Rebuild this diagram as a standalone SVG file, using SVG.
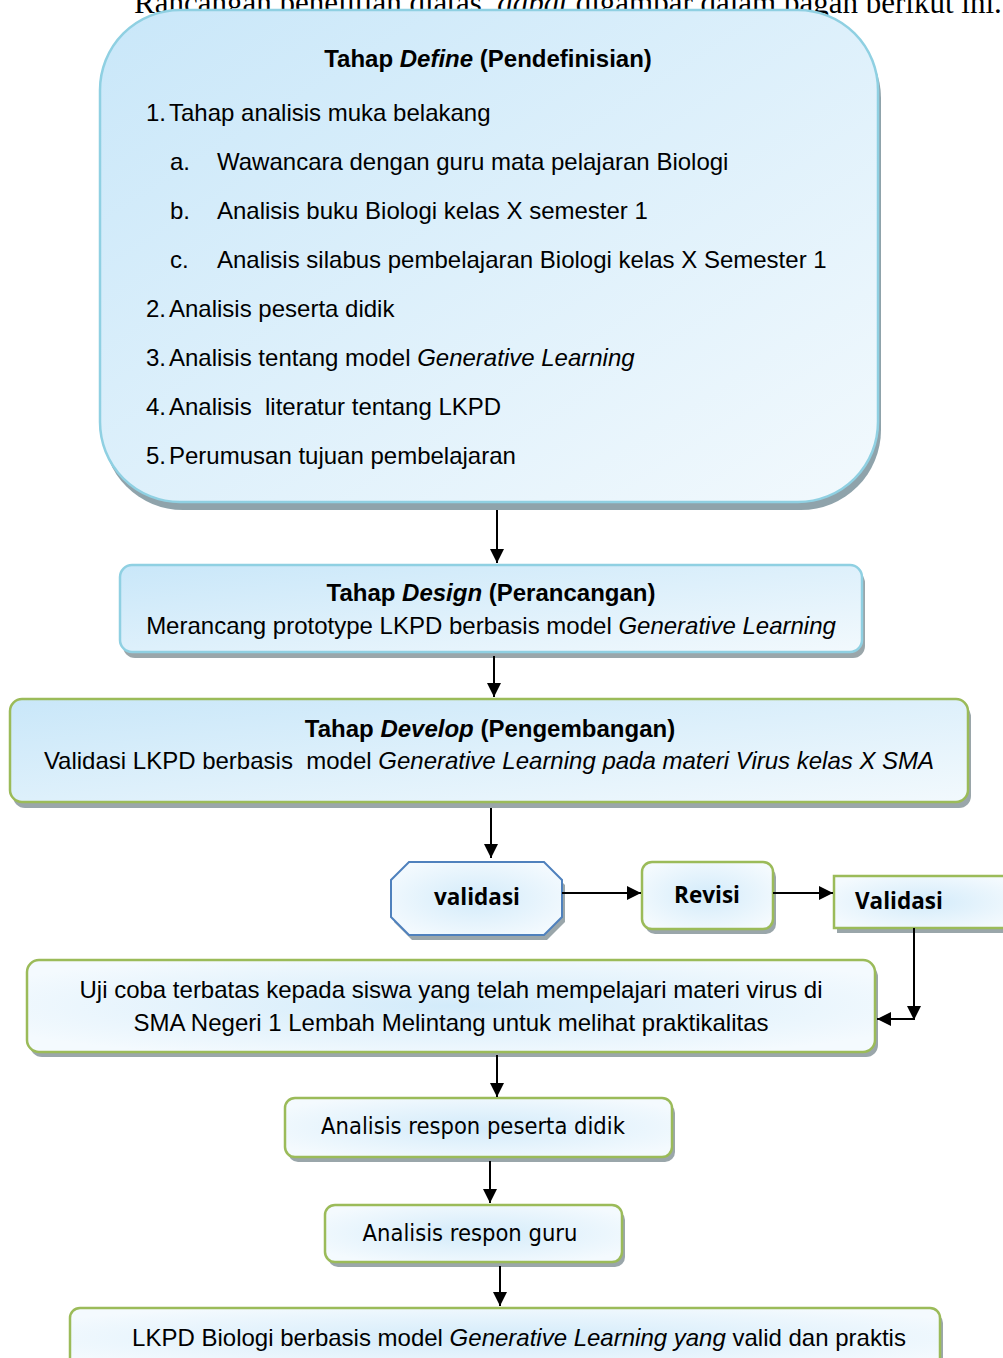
<svg xmlns="http://www.w3.org/2000/svg" width="1003" height="1358" viewBox="0 0 1003 1358">
<style>
.t{font-family:"Liberation Sans",Arial,sans-serif;font-size:24px;fill:#000}
.b{font-weight:bold}
.i{font-style:italic}
.c{text-anchor:middle}
.o{font-family:"Open Sans","DejaVu Sans",sans-serif;font-weight:bold;font-size:22.5px;fill:#000}
.d{font-family:"DejaVu Sans",sans-serif;font-stretch:condensed;font-size:23.5px;fill:#000}
.sh{fill:#9aa6aa}
.bl{stroke:#8fd0e2;stroke-width:2.5}
.gr{stroke:#9bbb59;stroke-width:2.5}
.conn line,.conn path{stroke:#000;stroke-width:2;fill:none}
</style>
<defs>
<linearGradient id="gL" x1="0" y1="0" x2="1" y2="1">
<stop offset="0" stop-color="#c9e7f9"/>
<stop offset="1" stop-color="#f2f9fd"/>
</linearGradient>
<radialGradient id="gR" cx="0.5" cy="0.5" r="0.6">
<stop offset="0" stop-color="#d3ebfa"/>
<stop offset="1" stop-color="#f4fafe"/>
</radialGradient>
<marker id="ah" viewBox="0 0 10 10" refX="10" refY="5" markerWidth="17" markerHeight="14" markerUnits="userSpaceOnUse" orient="auto">
<path d="M0,0 L10,5 L0,10 z" fill="#000"/>
</marker>
</defs>

<text x="134" y="13" style="font-family:'Liberation Serif','Times New Roman',serif;font-size:31px">Rancangan penelitian diatas, <tspan font-style="italic">dapat</tspan> digambar dalam bagan berikut ini.</text>

<g id="define">
<rect x="103" y="18" width="778" height="492" rx="80" fill="#8fa3ab"/>
<rect x="100" y="10" width="778" height="492" rx="80" fill="url(#gL)" class="bl"/>
<text x="488" y="67" class="t b c">Tahap <tspan class="i">Define</tspan> (Pendefinisian)</text>
<text x="146" y="121" class="t">1.</text><text x="169" y="121" class="t">Tahap analisis muka belakang</text>
<text x="170" y="170" class="t">a.</text><text x="217" y="170" class="t">Wawancara dengan guru mata pelajaran Biologi</text>
<text x="170" y="219" class="t">b.</text><text x="217" y="219" class="t">Analisis buku Biologi kelas X semester 1</text>
<text x="170" y="268" class="t">c.</text><text x="217" y="268" class="t">Analisis silabus pembelajaran Biologi kelas X Semester 1</text>
<text x="146" y="317" class="t">2.</text><text x="169" y="317" class="t">Analisis peserta didik</text>
<text x="146" y="366" class="t">3.</text><text x="169" y="366" class="t">Analisis tentang model <tspan class="i">Generative Learning</tspan></text>
<text x="146" y="415" class="t">4.</text><text x="169" y="415" class="t" xml:space="preserve">Analisis  literatur tentang LKPD</text>
<text x="146" y="464" class="t">5.</text><text x="169" y="464" class="t">Perumusan tujuan pembelajaran</text>
</g>

<g id="design">
<rect x="123" y="571" width="742" height="87" rx="12" class="sh"/>
<rect x="120" y="565" width="742" height="87" rx="12" fill="url(#gL)" class="bl"/>
<text x="491" y="601" class="t b c">Tahap <tspan class="i">Design</tspan> (Perancangan)</text>
<text x="491" y="634" class="t c">Merancang prototype LKPD berbasis model <tspan class="i">Generative Learning</tspan></text>
</g>

<g id="develop">
<rect x="13" y="705" width="958" height="103" rx="12" class="sh"/>
<rect x="10" y="699" width="958" height="103" rx="12" fill="url(#gL)" class="gr"/>
<text x="490" y="737" class="t b c">Tahap <tspan class="i">Develop</tspan> (Pengembangan)</text>
<text x="489" y="769" class="t c" xml:space="preserve">Validasi LKPD berbasis  model <tspan class="i">Generative Learning pada materi Virus kelas X SMA</tspan></text>
</g>

<g id="validasi1">
<polygon points="412,867 547,867 565,885 565,922 547,940 412,940 394,922 394,885" class="sh"/>
<polygon points="409,862 544,862 562,880 562,917 544,935 409,935 391,917 391,880" fill="url(#gR)" stroke="#4f81bd" stroke-width="2"/>
<text x="477" y="905" class="o c">validasi</text>
</g>

<g id="revisi">
<rect x="645" y="867" width="131" height="67" rx="10" class="sh"/>
<rect x="642" y="862" width="131" height="67" rx="10" fill="url(#gR)" class="gr"/>
<text x="707" y="903" class="o c">Revisi</text>
</g>

<g id="validasi2">
<rect x="837" y="881" width="180" height="52" class="sh"/>
<rect x="834" y="876" width="180" height="52" fill="url(#gR)" class="gr"/>
<text x="855" y="909" class="o">Validasi</text>
</g>

<g id="ujicoba">
<rect x="30" y="965" width="848" height="92" rx="12" class="sh"/>
<rect x="27" y="960" width="848" height="92" rx="12" fill="url(#gR)" class="gr"/>
<text x="451" y="998" class="t c">Uji coba terbatas kepada siswa yang telah mempelajari materi virus di</text>
<text x="451" y="1031" class="t c">SMA Negeri 1 Lembah Melintang untuk melihat praktikalitas</text>
</g>

<g id="respon-peserta">
<rect x="288" y="1103" width="387" height="59" rx="10" class="sh"/>
<rect x="285" y="1098" width="387" height="59" rx="10" fill="url(#gR)" class="gr"/>
<text x="473" y="1134" class="d c">Analisis respon peserta didik</text>
</g>

<g id="respon-guru">
<rect x="328" y="1210" width="297" height="57" rx="10" class="sh"/>
<rect x="325" y="1205" width="297" height="57" rx="10" fill="url(#gR)" class="gr"/>
<text x="470" y="1241" class="d c">Analisis respon guru</text>
</g>

<g id="hasil">
<rect x="73" y="1313" width="870" height="60" rx="10" class="sh"/>
<rect x="70" y="1308" width="870" height="60" rx="10" fill="url(#gR)" class="gr"/>
<text x="519" y="1346" class="t c">LKPD Biologi berbasis model <tspan class="i">Generative Learning yang</tspan> valid dan praktis</text>
</g>

<g id="connectors" class="conn">
<line x1="497" y1="510" x2="497" y2="563" marker-end="url(#ah)"/>
<line x1="494" y1="656" x2="494" y2="697" marker-end="url(#ah)"/>
<line x1="491" y1="808" x2="491" y2="858" marker-end="url(#ah)"/>
<line x1="562" y1="893" x2="641" y2="893" marker-end="url(#ah)"/>
<line x1="773" y1="893" x2="833" y2="893" marker-end="url(#ah)"/>
<line x1="914" y1="928" x2="914" y2="1020" marker-end="url(#ah)"/>
<line x1="915" y1="1019" x2="877" y2="1019" marker-end="url(#ah)"/>
<line x1="497" y1="1055" x2="497" y2="1097" marker-end="url(#ah)"/>
<line x1="490" y1="1161" x2="490" y2="1203" marker-end="url(#ah)"/>
<line x1="500" y1="1266" x2="500" y2="1306" marker-end="url(#ah)"/>
</g>
</svg>
